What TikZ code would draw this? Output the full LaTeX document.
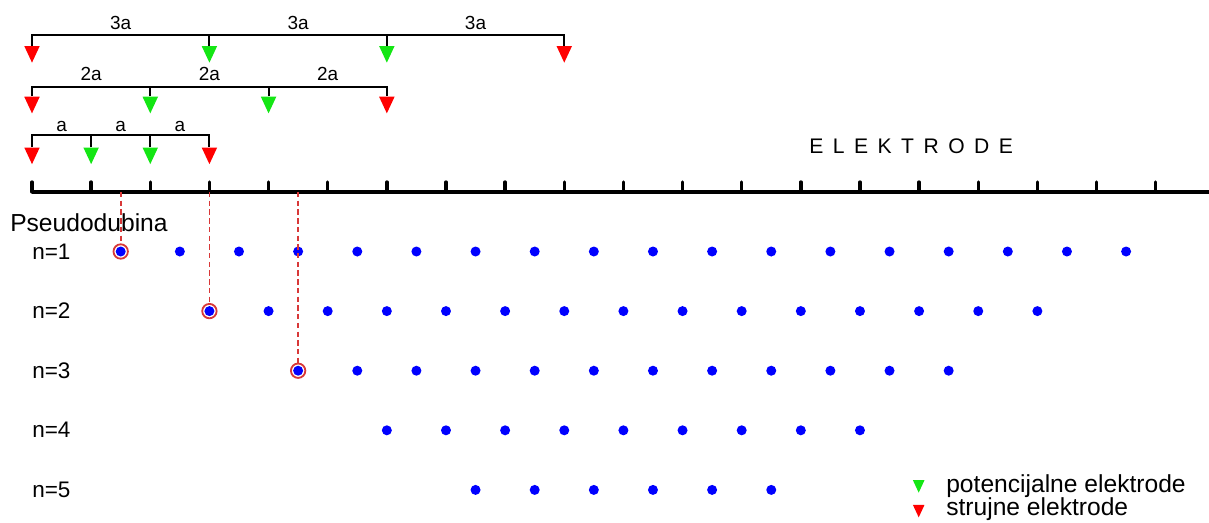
\documentclass[tikz,border=0pt]{standalone}
\usepackage{fontspec}
\setmainfont{Liberation Sans}
\usetikzlibrary{shapes.geometric}
\definecolor{ElRed}{HTML}{FF0000}
\definecolor{ElGreen}{HTML}{14E614}
\definecolor{PtBlue}{HTML}{0000FF}
\definecolor{DepthRed}{HTML}{D83838}
\tikzset{
  electrode/.style={
    isosceles triangle,
    isosceles triangle apex angle=50,
    shape border rotate=270,
    draw=none,
    fill=#1,
    inner sep=0pt,
    minimum height=0.415cm,
    anchor=apex
  },
  legendmark/.style={electrode=#1,minimum height=0.31cm},
  spread/.style={draw=black,line width=1.4pt},
  groundline/.style={draw=black,line width=2.8pt},
  tickmark/.style={draw=black,line width=2.4pt,line cap=round},
  datum/.style={circle,fill=PtBlue,inner sep=0pt,minimum size=0.25cm},
  datumring/.style={circle,draw=DepthRed,line width=1.3pt,inner sep=0pt,minimum size=0.36cm},
  depthline/.style={draw=DepthRed,line width=1.2pt,dash pattern=on 3.8pt off 2.4pt},
  spacing/.style={font=\fontsize{13.5}{15}\selectfont,anchor=base,inner sep=0pt},
  levellabel/.style={font=\fontsize{16}{18}\selectfont,anchor=base west,inner sep=0pt},
  legendtext/.style={font=\fontsize{17.5}{20}\selectfont,anchor=base west,inner sep=0pt}
}

\begin{document}
\begin{tikzpicture}[x=0.025cm,y=-0.025cm]
  \useasboundingbox (0,0) rectangle (1209,522);

  % ground line with electrode positions
  \foreach \k in {0,...,19}
    \coordinate (e\k) at (32+59.14*\k,192);
  \coordinate (gend) at (1209,192);
  \draw[groundline] (e0) -- (gend);
  \foreach \k in {0,...,19}
    \draw[tickmark] (e\k) -- ++(0,-10);

  \node[font=\fontsize{15}{18}\selectfont\addfontfeature{LetterSpace=45},anchor=base west,inner sep=0pt] (title) at (809,153.3) {ELEKTRODE};

  % spreads 3a, 2a, a
  \coordinate (wenner3) at (0,34.7);
  \coordinate (wenner2) at (0,86.7);
  \coordinate (wenner1) at (0,135);

  \node[electrode=ElRed] (c3a) at (32,63.3) {};
  \node[electrode=ElGreen] (p3a) at (209.42,63.3) {};
  \node[electrode=ElGreen] (p3b) at (386.84,63.3) {};
  \node[electrode=ElRed] (c3b) at (564.26,63.3) {};

  \node[electrode=ElRed] (c2a) at (32,114) {};
  \node[electrode=ElGreen] (p2a) at (150.28,114) {};
  \node[electrode=ElGreen] (p2b) at (268.56,114) {};
  \node[electrode=ElRed] (c2b) at (386.84,114) {};

  \node[electrode=ElRed] (c1a) at (32,164.8) {};
  \node[electrode=ElGreen] (p1a) at (91.14,164.8) {};
  \node[electrode=ElGreen] (p1b) at (150.28,164.8) {};
  \node[electrode=ElRed] (c1b) at (209.42,164.8) {};

  \draw[spread] (c3a.north) |- (c3b.north |- wenner3) -- (c3b.north);
  \draw[spread] (p3a.north) -- (p3a.north |- wenner3);
  \draw[spread] (p3b.north) -- (p3b.north |- wenner3);
  \draw[spread] (c2a.north) |- (c2b.north |- wenner2) -- (c2b.north);
  \draw[spread] (p2a.north) -- (p2a.north |- wenner2);
  \draw[spread] (p2b.north) -- (p2b.north |- wenner2);
  \draw[spread] (c1a.north) |- (c1b.north |- wenner1) -- (c1b.north);
  \draw[spread] (p1a.north) -- (p1a.north |- wenner1);
  \draw[spread] (p1b.north) -- (p1b.north |- wenner1);

  \node[spacing] (s3a) at (120.7,29) {3a};
  \node[spacing] (s3b) at (298.1,29) {3a};
  \node[spacing] (s3c) at (475.5,29) {3a};
  \node[spacing] (s2a) at (91.1,80) {2a};
  \node[spacing] (s2b) at (209.4,80) {2a};
  \node[spacing] (s2c) at (327.7,80) {2a};
  \node[spacing] (s1a) at (61.6,131) {a};
  \node[spacing] (s1b) at (120.7,131) {a};
  \node[spacing] (s1c) at (179.9,131) {a};

  % pseudosection
  \node[legendtext] (depth) at (10,231) {Pseudodubina};
  \foreach \n/\y in {1/251.5,2/311.1,3/370.7,4/430.3,5/489.9}{
    \node[levellabel] (n\n) at (32,\y+7.5) {n=\n};
    \pgfmathtruncatemacro{\last}{20-3*\n}
    \foreach \i in {0,...,\last}
      \node[datum] (dot\n-\i) at (32+88.71*\n+59.14*\i,\y) {};
  }
  \foreach \n in {1,2,3}{
    \node[datumring] (ring\n) at (dot\n-0) {};
    \draw[depthline] (ring\n |- e0) -- (ring\n.north);
  }

  % legend
  \node[legendmark=ElGreen] (lgpot) at (918.7,493.3) {};
  \node[legendtext] (lgpottext) at (946,492.5) {potencijalne elektrode};
  \node[legendmark=ElRed] (lgcur) at (918.7,518) {};
  \node[legendtext] (lgcurtext) at (946,515.5) {strujne elektrode};
\end{tikzpicture}
\end{document}
